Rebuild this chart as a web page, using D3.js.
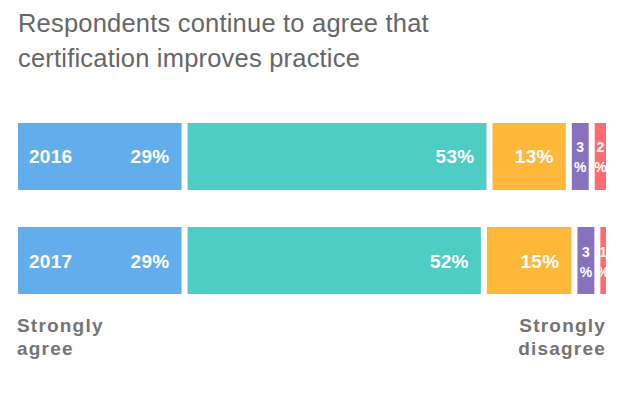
<!DOCTYPE html>
<html>
<head>
<meta charset="utf-8">
<script src="https://cdn.jsdelivr.net/npm/d3@7"></script>
<style>
  body { margin: 0; background: #fff; }
  svg { display: block; }
</style>
</head>
<body>
<svg id="chart" width="640" height="399"></svg>
<script>
const years = ["2016", "2017"];
const levels = ["Strongly agree", "Agree", "Neutral", "Disagree", "Strongly disagree"];
const values2016 = [29, 53, 13, 3, 2];
const values2017 = [29, 52, 15, 3, 1];
const colors = ["#62aeec", "#4ecdc4", "#ffb83a", "#8872be", "#ff6b6e"];
const titleLines = ["Respondents continue to agree that", "certification improves practice"];

const width = 640, height = 399;
const left = 18, gap = 6;

const svg = d3.select("#chart");

// Title
svg.append("g")
  .selectAll("text")
  .data(titleLines)
  .enter()
  .append("text")
  .attr("x", left)
  .attr("y", (d, i) => 32 + i * 35)
  .attr("fill", "#666")
  .style("font-family", "'Liberation Sans', Arial, sans-serif")
  .style("font-size", "25.5px")
  .style("letter-spacing", "0.2px")
  .text(d => d);

// table for the stack
const rows = years.map((y, i) => {
  const vals = i === 0 ? values2016 : values2017;
  const r = { year: y };
  levels.forEach((l, j) => r[l] = vals[j]);
  return r;
});
const series = d3.stack().keys(levels)(rows);

const x = d3.scaleLinear()
  .domain([0, 100])
  .range([left, left + 564]);

const y = d3.scaleBand()
  .domain(years)
  .range([123, 294])
  .paddingInner(0.356);

const defs = svg.append("defs");

const layer = svg.append("g")
  .selectAll("g")
  .data(series)
  .enter()
  .append("g")
  .attr("fill", (d, i) => colors[i]);

const seg = layer.selectAll("g")
  .data((s, i) => s.map(d => ({ d: d, i: i, key: s.key })))
  .enter()
  .append("g");

seg.append("rect")
  .attr("x", p => x(p.d[0]) + p.i * gap)
  .attr("y", p => y(p.d.data.year))
  .attr("width", p => x(p.d[1]) - x(p.d[0]))
  .attr("height", y.bandwidth());

seg.each(function(p) {
  const g = d3.select(this);
  const v = p.d[1] - p.d[0];
  const x0 = x(p.d[0]) + p.i * gap;
  const w = x(p.d[1]) - x(p.d[0]);
  const y0 = y(p.d.data.year);
  const cy = y0 + y.bandwidth() / 2;
  if (v >= 5) {
    g.append("text")
      .attr("x", x0 + w - 12)
      .attr("y", cy + 7)
      .attr("text-anchor", "end")
      .attr("fill", "#fff")
      .style("font-family", "'Liberation Sans', Arial, sans-serif")
      .style("font-weight", "bold")
      .style("font-size", "19px")
      .style("letter-spacing", "0.3px")
      .text(v + "%");
  } else {
    // narrow segment: wrap onto two lines, clipped to the bar
    const id = "clip-" + p.i + "-" + p.d.data.year;
    defs.append("clipPath").attr("id", id)
      .append("rect")
      .attr("x", x0).attr("y", y0)
      .attr("width", w).attr("height", y.bandwidth());
    g.append("g")
      .attr("clip-path", "url(#" + id + ")")
      .selectAll("text")
      .data([v, "%"])
      .enter()
      .append("text")
      .attr("x", x0 + w / 2)
      .attr("y", (t, j) => cy - 4 + j * 20)
      .attr("text-anchor", "middle")
      .attr("fill", "#fff")
      .style("font-family", "'Liberation Sans', Arial, sans-serif")
      .style("font-weight", "bold")
      .style("font-size", "14px")
      .text(t => t);
  }
});

// year labels
svg.append("g")
  .selectAll("text")
  .data(years)
  .enter()
  .append("text")
  .attr("x", 29)
  .attr("y", d => y(d) + y.bandwidth() / 2 + 7)
  .attr("fill", "#fff")
  .style("font-family", "'Liberation Sans', Arial, sans-serif")
  .style("font-weight", "bold")
  .style("font-size", "19px")
  .style("letter-spacing", "0.3px")
  .text(d => d);

// end labels
const ends = [
  { lines: ["Strongly", "agree"], x: x(0) - 1, anchor: "start" },
  { lines: ["Strongly", "disagree"], x: x(100) + 4 * gap, anchor: "end" }
];
ends.forEach(e => {
  svg.append("g")
    .selectAll("text")
    .data(e.lines)
    .enter()
    .append("text")
    .attr("x", e.x)
    .attr("y", (d, i) => 332 + i * 23)
    .attr("text-anchor", e.anchor)
    .attr("fill", "#747474")
    .style("font-family", "'Liberation Sans', Arial, sans-serif")
    .style("font-weight", "bold")
    .style("font-size", "19px")
    .style("letter-spacing", "1.2px")
    .text(d => d);
});
</script>
</body>
</html>
